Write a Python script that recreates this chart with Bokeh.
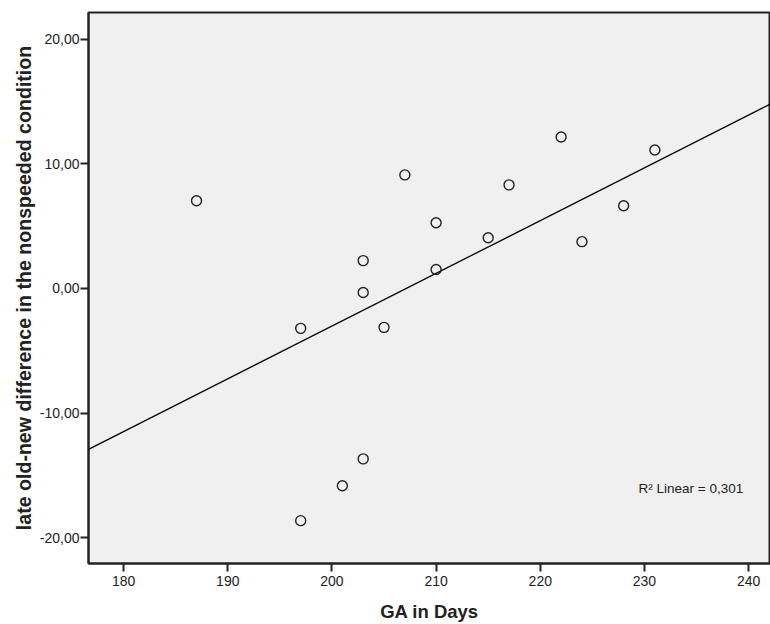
import numpy as np
from bokeh.plotting import figure
from bokeh.models import FixedTicker, Range1d, Label
from bokeh.embed import file_html
from bokeh.resources import INLINE

ga_days = [187, 207, 222, 231, 217, 210, 215, 228, 224, 203, 210, 203, 197, 205, 203, 201, 197]
old_new_diff = [7.05, 9.12, 12.16, 11.12, 8.32, 5.28, 4.08, 6.64, 3.76, 2.24, 1.52, -0.32,
                -3.2, -3.12, -13.68, -15.84, -18.64]
x_ticks = [180, 190, 200, 210, 220, 230, 240]
y_ticks = [-20, -10, 0, 10, 20]
y_tick_labels = {-20: "-20,00", -10: "-10,00", 0: "0,00", 10: "10,00", 20: "20,00"}
r2_text = "R\u00b2 Linear = 0,301"

x_lo, x_hi = 176.63, 242.1
y_lo, y_hi = -22.08, 22.16

p = figure(width=770, height=624, output_backend="svg", toolbar_location=None,
           x_range=Range1d(x_lo, x_hi), y_range=Range1d(y_lo, y_hi),
           min_border_left=88, min_border_right=0, min_border_top=12, min_border_bottom=59)
p.background_fill_color = "#F0F0F0"
p.border_fill_color = "white"
p.outline_line_color = "#222222"
p.outline_line_width = 2
p.xgrid.visible = False
p.ygrid.visible = False

FONT = "Liberation Sans"
for ax in (p.xaxis[0], p.yaxis[0]):
    ax.axis_line_color = "#222222"
    ax.axis_line_width = 2
    ax.major_tick_line_color = "#222222"
    ax.major_tick_line_width = 2
    ax.major_tick_in = 0
    ax.major_tick_out = 8
    ax.minor_tick_line_color = None
    ax.major_label_text_font = FONT
    ax.major_label_text_font_size = "14px"
    ax.major_label_text_color = "#222222"
    ax.axis_label_text_font = FONT
    ax.axis_label_text_font_style = "bold"
    ax.axis_label_text_color = "#222222"

p.xaxis.axis_label_text_font_size = "18.5px"
p.yaxis.axis_label_text_font_size = "19.6px"
p.xaxis.ticker = FixedTicker(ticks=x_ticks)
p.yaxis.ticker = FixedTicker(ticks=y_ticks)
p.yaxis.major_label_overrides = y_tick_labels
p.xaxis.major_label_standoff = 4
p.yaxis.major_label_standoff = 1
p.xaxis.axis_label = "GA in Days"
p.yaxis.axis_label = "late old-new difference in the nonspeeded condition"
p.xaxis.axis_label_standoff = 12
p.yaxis.axis_label_standoff = 2

# regression line fitted from the data
slope, intercept = np.polyfit(np.array(ga_days, float), np.array(old_new_diff, float), 1)
lx = [x_lo, x_hi]
ly = [intercept + slope * v for v in lx]
p.line(lx, ly, line_color="black", line_width=1.3)

p.scatter(ga_days, old_new_diff, size=10, marker="circle", fill_color=None,
          line_color="#222222", line_width=1.4)

p.add_layout(Label(x=550, y=68, x_units="screen", y_units="screen", text=r2_text,
                   text_font=FONT, text_font_size="13.5px", text_color="#222222"))

open("out.html", "w").write(file_html(p, INLINE))
